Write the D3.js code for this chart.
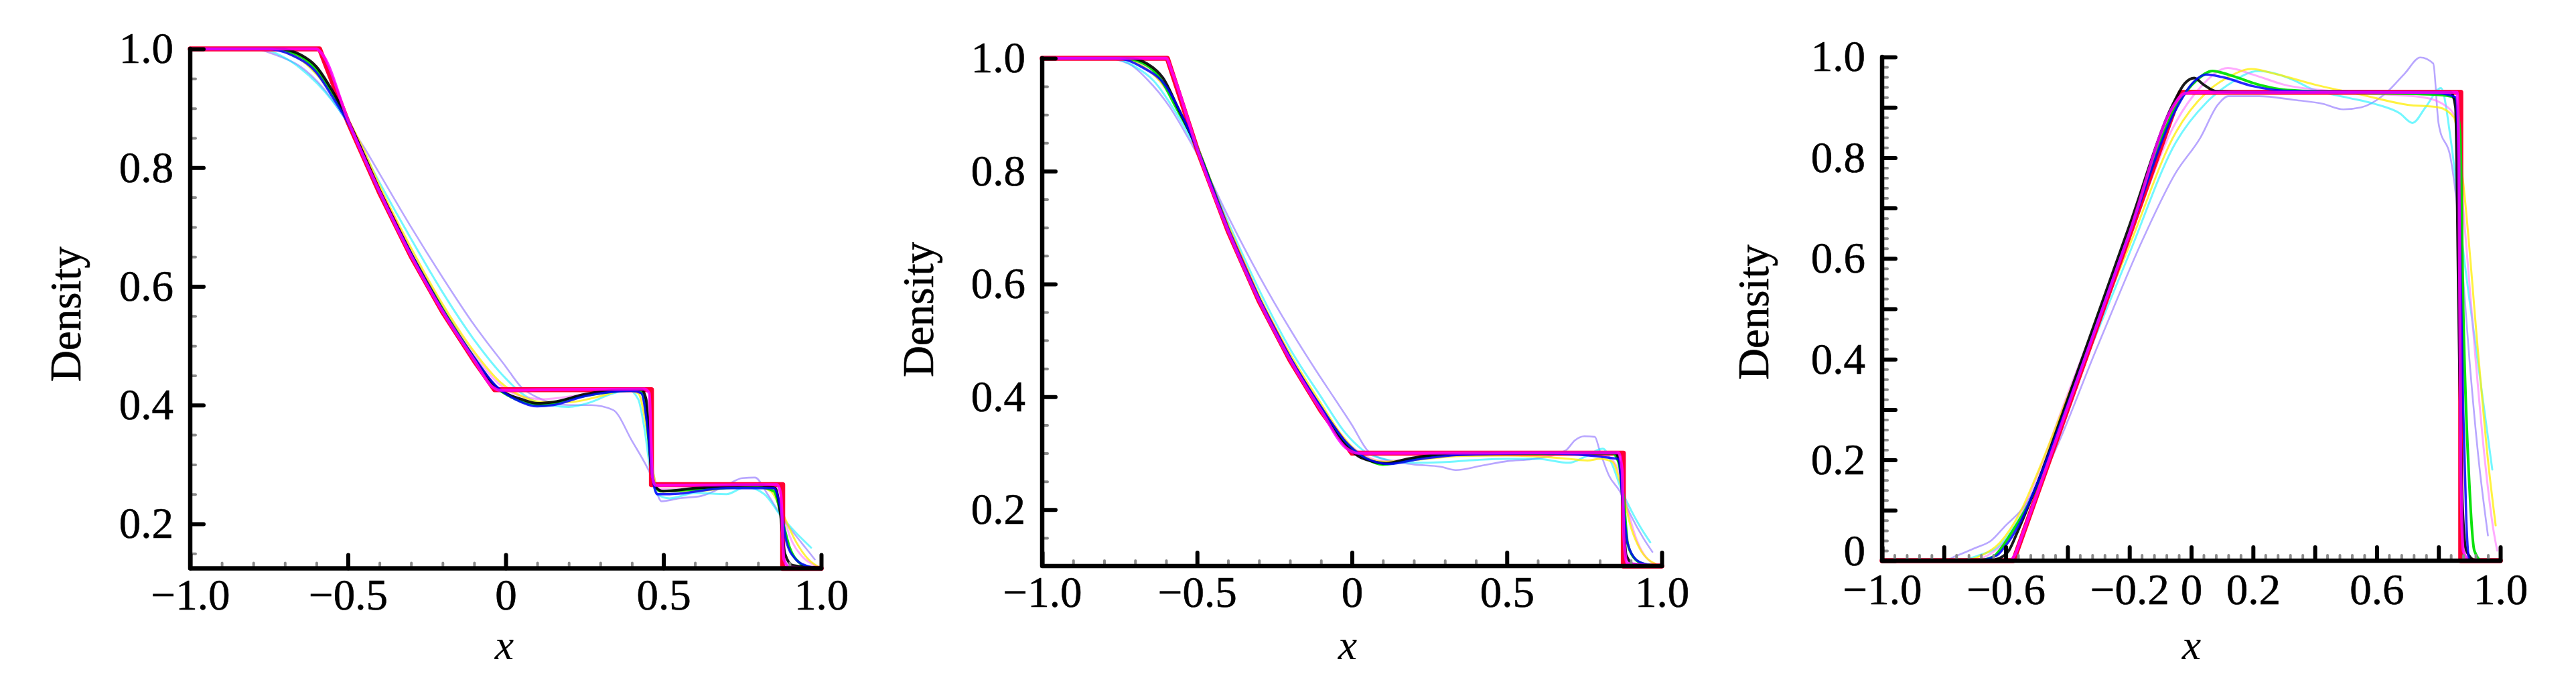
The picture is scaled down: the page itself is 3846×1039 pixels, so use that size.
<!DOCTYPE html>
<html><head><meta charset="utf-8">
<script src="https://cdn.jsdelivr.net/npm/d3@7"></script>
<style>body{margin:0;background:#fff}svg{display:block}</style>
</head><body>
<svg id="c" width="3846" height="1039"></svg>
<script>
// ---------------- DATA (x, density) ----------------
// Panel 1
const p1Red = [[-1,1],[-0.59,1],[-0.5,0.877],[-0.4,0.758],[-0.3,0.651],[-0.2,0.557],[-0.1,0.475],[-0.035,0.426],[0.462,0.426],[0.462,0.266],[0.878,0.266],[0.878,0.125],[1,0.125]];
const p1Magenta = [[-1,1],[-0.6,1],[-0.58,0.99],[-0.5,0.88],[-0.4,0.76],[-0.3,0.652],[-0.2,0.558],[-0.1,0.476],[-0.04,0.43],[-0.02,0.425],[0.1,0.426],[0.44,0.427],[0.455,0.42],[0.465,0.28],[0.475,0.265],[0.86,0.266],[0.872,0.25],[0.882,0.14],[0.9,0.127],[1,0.125]];
const p1Black = [[-1,1],[-0.72,1],[-0.65,0.99],[-0.6,0.97],[-0.55,0.93],[-0.5,0.88],[-0.4,0.762],[-0.3,0.655],[-0.2,0.56],[-0.1,0.478],[-0.04,0.435],[0,0.42],[0.05,0.41],[0.1,0.403],[0.15,0.405],[0.25,0.418],[0.35,0.425],[0.43,0.426],[0.445,0.41],[0.46,0.3],[0.475,0.262],[0.5,0.255],[0.6,0.26],[0.8,0.265],[0.855,0.26],[0.87,0.22],[0.885,0.15],[0.91,0.13],[1,0.125]];
const p1Green = [[-1,1],[-0.74,1],[-0.66,0.99],[-0.6,0.965],[-0.55,0.925],[-0.5,0.878],[-0.4,0.76],[-0.3,0.655],[-0.2,0.562],[-0.1,0.48],[-0.03,0.43],[0.02,0.413],[0.08,0.402],[0.12,0.4],[0.2,0.41],[0.3,0.42],[0.42,0.425],[0.44,0.41],[0.455,0.33],[0.47,0.27],[0.49,0.255],[0.6,0.258],[0.8,0.262],[0.85,0.255],[0.875,0.21],[0.9,0.16],[0.93,0.135],[0.96,0.127],[1,0.125]];
const p1Blue = [[-1,1],[-0.76,1],[-0.68,0.99],[-0.6,0.96],[-0.55,0.92],[-0.5,0.876],[-0.4,0.76],[-0.3,0.655],[-0.2,0.56],[-0.1,0.48],[-0.03,0.432],[0.03,0.41],[0.1,0.398],[0.15,0.4],[0.25,0.415],[0.4,0.424],[0.43,0.42],[0.45,0.36],[0.465,0.28],[0.48,0.25],[0.52,0.25],[0.7,0.26],[0.85,0.26],[0.87,0.23],[0.89,0.17],[0.92,0.14],[0.95,0.13],[1,0.125]];
const p1Yellow = [[-1,1],[-0.76,1],[-0.66,0.985],[-0.58,0.945],[-0.52,0.9],[-0.45,0.83],[-0.4,0.77],[-0.3,0.665],[-0.2,0.57],[-0.1,0.49],[-0.02,0.44],[0.05,0.415],[0.12,0.405],[0.2,0.405],[0.3,0.415],[0.38,0.425],[0.42,0.42],[0.45,0.35],[0.47,0.28],[0.49,0.255],[0.6,0.255],[0.78,0.265],[0.84,0.255],[0.88,0.215],[0.92,0.17],[0.96,0.14],[0.99,0.128]];
const p1Cyan = [[-1,1],[-0.78,1],[-0.7,0.985],[-0.65,0.967],[-0.55,0.913],[-0.5,0.875],[-0.4,0.775],[-0.3,0.68],[-0.2,0.59],[-0.1,0.51],[0,0.445],[0.05,0.42],[0.1,0.405],[0.2,0.397],[0.27,0.405],[0.33,0.418],[0.39,0.425],[0.42,0.41],[0.44,0.36],[0.46,0.285],[0.48,0.25],[0.52,0.243],[0.6,0.252],[0.7,0.25],[0.76,0.262],[0.82,0.25],[0.87,0.215],[0.92,0.185],[0.968,0.16]];
const p1Violet = [[-1,1],[-0.8,1],[-0.73,0.99],[-0.65,0.97],[-0.58,0.935],[-0.5,0.875],[-0.45,0.835],[-0.4,0.79],[-0.3,0.7],[-0.2,0.615],[-0.1,0.535],[0,0.465],[0.05,0.43],[0.1,0.413],[0.2,0.4],[0.27,0.4],[0.34,0.392],[0.4,0.34],[0.464,0.278],[0.494,0.238],[0.55,0.243],[0.62,0.247],[0.7,0.265],[0.75,0.277],[0.79,0.278],[0.83,0.25],[0.877,0.21],[0.92,0.18],[0.95,0.16],[0.98,0.14]];
const p1Pink = [[-1,1],[-0.74,1],[-0.66,0.988],[-0.6,0.96],[-0.54,0.915],[-0.5,0.878],[-0.4,0.765],[-0.3,0.66],[-0.2,0.566],[-0.1,0.485],[-0.02,0.435],[0.05,0.415],[0.12,0.41],[0.25,0.418],[0.38,0.425],[0.43,0.42],[0.455,0.34],[0.47,0.28],[0.49,0.258],[0.7,0.262],[0.84,0.262],[0.87,0.235],[0.9,0.18],[0.94,0.145],[0.98,0.13]];

// Panel 2
const p2Red = [[-1,1],[-0.596,1],[-0.5,0.839],[-0.4,0.694],[-0.3,0.57],[-0.2,0.465],[-0.1,0.375],[0,0.3],[0.876,0.3],[0.876,0.1],[1,0.1]];
const p2Magenta = [[-1,1],[-0.6,1],[-0.58,0.975],[-0.5,0.84],[-0.4,0.695],[-0.3,0.571],[-0.2,0.466],[-0.1,0.376],[-0.02,0.31],[0.02,0.3],[0.86,0.301],[0.872,0.27],[0.878,0.15],[0.888,0.105],[1,0.1]];
const p2Black = [[-1,1],[-0.72,1],[-0.66,0.99],[-0.61,0.965],[-0.56,0.91],[-0.5,0.84],[-0.4,0.696],[-0.3,0.572],[-0.2,0.467],[-0.1,0.378],[-0.03,0.32],[0.02,0.295],[0.07,0.285],[0.11,0.282],[0.18,0.29],[0.3,0.298],[0.6,0.3],[0.85,0.3],[0.865,0.28],[0.875,0.2],[0.885,0.12],[0.91,0.103],[1,0.1]];
const p2Green = [[-1,1],[-0.74,1],[-0.67,0.99],[-0.62,0.965],[-0.57,0.915],[-0.5,0.842],[-0.4,0.698],[-0.3,0.574],[-0.2,0.469],[-0.1,0.38],[-0.02,0.318],[0.04,0.292],[0.1,0.28],[0.15,0.284],[0.25,0.295],[0.4,0.299],[0.84,0.3],[0.86,0.285],[0.877,0.22],[0.89,0.14],[0.91,0.115],[0.94,0.104],[1,0.1]];
const p2Blue = [[-1,1],[-0.76,1],[-0.68,0.985],[-0.6,0.95],[-0.55,0.9],[-0.5,0.84],[-0.4,0.698],[-0.3,0.575],[-0.2,0.47],[-0.1,0.382],[-0.02,0.32],[0.05,0.29],[0.12,0.281],[0.2,0.288],[0.35,0.297],[0.6,0.3],[0.86,0.29],[0.875,0.21],[0.89,0.14],[0.92,0.11],[0.96,0.102]];
const p2Yellow = [[-1,1],[-0.76,1],[-0.66,0.98],[-0.58,0.93],[-0.52,0.87],[-0.45,0.77],[-0.4,0.705],[-0.3,0.58],[-0.2,0.476],[-0.1,0.388],[-0.03,0.33],[0.03,0.297],[0.1,0.285],[0.2,0.288],[0.35,0.295],[0.5,0.296],[0.7,0.29],[0.76,0.287],[0.8,0.29],[0.84,0.285],[0.87,0.24],[0.9,0.17],[0.93,0.13],[0.96,0.11],[0.98,0.104]];
const p2Cyan = [[-1,1],[-0.78,1],[-0.7,0.985],[-0.64,0.96],[-0.57,0.905],[-0.5,0.835],[-0.4,0.71],[-0.3,0.59],[-0.2,0.485],[-0.1,0.4],[-0.02,0.335],[0.05,0.3],[0.1,0.29],[0.2,0.283],[0.29,0.284],[0.4,0.288],[0.5,0.29],[0.6,0.29],[0.7,0.283],[0.75,0.293],[0.81,0.308],[0.84,0.28],[0.87,0.235],[0.9,0.2],[0.93,0.17],[0.963,0.142]];
const p2Violet = [[-1,1],[-0.8,1],[-0.72,0.99],[-0.66,0.962],[-0.59,0.915],[-0.53,0.86],[-0.48,0.81],[-0.4,0.72],[-0.3,0.615],[-0.2,0.52],[-0.12,0.45],[-0.06,0.4],[0,0.35],[0.05,0.305],[0.1,0.29],[0.2,0.28],[0.286,0.276],[0.335,0.27],[0.42,0.278],[0.502,0.286],[0.589,0.29],[0.69,0.305],[0.72,0.323],[0.75,0.33],[0.784,0.329],[0.8,0.304],[0.83,0.26],[0.864,0.233],[0.9,0.19],[0.94,0.15],[0.97,0.125]];
const p2Pink = [[-1,1],[-0.75,1],[-0.67,0.985],[-0.6,0.945],[-0.54,0.885],[-0.5,0.84],[-0.4,0.7],[-0.3,0.577],[-0.2,0.472],[-0.1,0.383],[-0.02,0.322],[0.04,0.296],[0.1,0.286],[0.2,0.29],[0.4,0.297],[0.7,0.297],[0.82,0.295],[0.86,0.27],[0.89,0.2],[0.92,0.145],[0.95,0.115],[0.98,0.103]];

// Panel 3
const p3Red = [[-1,0],[-0.575,0],[-0.035,0.93],[0.872,0.93],[0.872,0],[1,0]];
const p3Magenta = [[-1,0],[-0.59,0],[-0.57,0.012],[-0.55,0.045],[-0.4,0.305],[-0.2,0.65],[-0.06,0.9],[-0.02,0.928],[0.03,0.93],[0.86,0.93],[0.866,0.8],[0.872,0.2],[0.88,0.02],[0.9,0],[1,0]];
const p3Black = [[-1,0],[-0.66,0],[-0.62,0.005],[-0.59,0.02],[-0.56,0.06],[-0.5,0.15],[-0.4,0.32],[-0.2,0.665],[-0.06,0.905],[-0.02,0.948],[0.01,0.958],[0.04,0.945],[0.08,0.932],[0.2,0.93],[0.84,0.93],[0.855,0.9],[0.865,0.5],[0.875,0.15],[0.89,0.02],[0.92,0],[1,0]];
const p3Green = [[-1,0],[-0.7,0],[-0.64,0.008],[-0.617,0.023],[-0.588,0.049],[-0.517,0.124],[-0.4,0.315],[-0.2,0.655],[-0.05,0.9],[0.02,0.955],[0.069,0.972],[0.12,0.965],[0.218,0.945],[0.3,0.935],[0.5,0.93],[0.8,0.925],[0.85,0.92],[0.87,0.85],[0.88,0.5],[0.9,0.15],[0.916,0.02],[0.94,0],[1,0]];
const p3Blue = [[-1,0],[-0.7,0],[-0.63,0.01],[-0.6,0.03],[-0.55,0.08],[-0.5,0.15],[-0.4,0.31],[-0.2,0.65],[-0.05,0.895],[0,0.945],[0.05,0.965],[0.1,0.96],[0.2,0.942],[0.3,0.933],[0.8,0.928],[0.855,0.92],[0.865,0.8],[0.872,0.55],[0.88,0.3],[0.89,0.08],[0.9,0],[1,0]];
const p3Yellow = [[-1,0],[-0.74,0],[-0.68,0.01],[-0.62,0.035],[-0.55,0.1],[-0.5,0.17],[-0.4,0.325],[-0.2,0.625],[-0.05,0.85],[0.05,0.93],[0.12,0.96],[0.194,0.976],[0.28,0.965],[0.4,0.945],[0.55,0.925],[0.7,0.905],[0.8,0.9],[0.85,0.88],[0.88,0.75],[0.93,0.4],[0.96,0.2],[0.985,0.07]];
const p3Cyan = [[-1,0],[-0.76,0],[-0.733,0.002],[-0.68,0.012],[-0.625,0.027],[-0.57,0.07],[-0.517,0.129],[-0.4,0.31],[-0.2,0.61],[-0.05,0.83],[0.05,0.91],[0.12,0.945],[0.218,0.972],[0.335,0.953],[0.384,0.938],[0.5,0.92],[0.592,0.907],[0.675,0.888],[0.716,0.869],[0.758,0.9],[0.808,0.938],[0.841,0.83],[0.883,0.6],[0.924,0.41],[0.974,0.181]];
const p3Violet = [[-1,0],[-0.8,0],[-0.762,0.009],[-0.7,0.025],[-0.647,0.04],[-0.6,0.07],[-0.552,0.099],[-0.48,0.169],[-0.3,0.43],[-0.155,0.64],[-0.05,0.77],[0.03,0.84],[0.086,0.905],[0.12,0.922],[0.22,0.922],[0.33,0.915],[0.426,0.907],[0.492,0.896],[0.55,0.9],[0.633,0.93],[0.692,0.968],[0.741,0.999],[0.783,0.987],[0.8,0.869],[0.841,0.793],[0.858,0.716],[0.875,0.6],[0.9,0.4],[0.93,0.2],[0.96,0.05]];
const p3Pink = [[-1,0],[-0.72,0],[-0.66,0.01],[-0.6,0.04],[-0.55,0.09],[-0.5,0.165],[-0.4,0.33],[-0.2,0.64],[-0.05,0.87],[0.03,0.94],[0.119,0.978],[0.2,0.965],[0.3,0.945],[0.5,0.93],[0.75,0.92],[0.83,0.9],[0.86,0.87],[0.88,0.7],[0.92,0.4],[0.95,0.2],[0.978,0.06],[0.99,0.02]];

// Ticks and labels
const p12XMajor = [-1, -0.5, 0, 0.5, 1];
const p12XLabels = ["\u22121.0", "\u22120.5", "0", "0.5", "1.0"];
const p12YMajor = [0.2, 0.4, 0.6, 0.8, 1.0];
const p12YLabels = ["0.2", "0.4", "0.6", "0.8", "1.0"];
const p3XMajor = [-1, -0.8, -0.6, -0.4, -0.2, 0, 0.2, 0.4, 0.6, 0.8, 1];
const p3XLabels = ["\u22121.0", "", "\u22120.6", "", "\u22120.2", "0", "0.2", "", "0.6", "", "1.0"];
const p3YMajor = [0, 0.1, 0.2, 0.3, 0.4, 0.5, 0.6, 0.7, 0.8, 0.9, 1.0];
const p3YLabels = ["0", "", "0.2", "", "0.4", "", "0.6", "", "0.8", "", "1.0"];
const yTitle = "Density";
const xTitle = "x";

// ---------------- STYLE / LAYOUT ----------------
const FONT = "'Liberation Serif','Times New Roman',serif";
const styles = {
  violet: {c: "#7d5cff", w: 2.6, o: 0.55},
  cyan:   {c: "#00f0ff", w: 3,   o: 0.55},
  pink:   {c: "#ff66ff", w: 3,   o: 0.55},
  yellow: {c: "#ffee00", w: 3,   o: 0.75},
  red:    {c: "#ff0033", w: 7.5, o: 1},
  green:  {c: "#00e000", w: 4,   o: 0.95},
  black:  {c: "#000000", w: 4,   o: 0.9},
  blue:   {c: "#0000ff", w: 3.5, o: 0.85},
  magenta:{c: "#ff00ff", w: 4.5, o: 0.85}
};
const order = ["violet","cyan","pink","yellow","red","green","black","blue","magenta"];

const panels = [
  {x0: 284, x1: 1226, yBot: 848.5, yTop: 73, yDom: [0.125, 1],
   series: {red:p1Red, magenta:p1Magenta, black:p1Black, green:p1Green, blue:p1Blue, yellow:p1Yellow, cyan:p1Cyan, violet:p1Violet, pink:p1Pink},
   xMaj: p12XMajor, xLab: p12XLabels, yMaj: p12YMajor, yLab: p12YLabels,
   xMin: d3.range(-0.9, 1.0, 0.1), yMin: d3.range(0.15, 1.0, 0.05),
   titleY: [120, 469], titleX: [753, 984]},
  {x0: 1556, x1: 2481, yBot: 845, yTop: 87, yDom: [0.1, 1],
   series: {red:p2Red, magenta:p2Magenta, black:p2Black, green:p2Green, blue:p2Blue, yellow:p2Yellow, cyan:p2Cyan, violet:p2Violet, pink:p2Pink},
   xMaj: p12XMajor, xLab: p12XLabels, yMaj: p12YMajor, yLab: p12YLabels,
   xMin: d3.range(-0.9, 1.0, 0.1), yMin: d3.range(0.15, 1.0, 0.05),
   titleY: [1393, 462], titleX: [2012, 984]},
  {x0: 2810, x1: 3733, yBot: 837, yTop: 85, yDom: [0, 1],
   series: {red:p3Red, magenta:p3Magenta, black:p3Black, green:p3Green, blue:p3Blue, yellow:p3Yellow, cyan:p3Cyan, violet:p3Violet, pink:p3Pink},
   xMaj: p3XMajor, xLab: p3XLabels, yMaj: p3YMajor, yLab: p3YLabels,
   xMin: d3.range(-0.96, 1.0, 0.04), yMin: d3.range(0.02, 1.0, 0.02),
   titleY: [2640, 466], titleX: [3272, 984]}
];

const svg = d3.select("#c");
svg.append("rect").attr("width", 3846).attr("height", 1039).attr("fill", "#fff");

panels.forEach((p, pi) => {
  const x = d3.scaleLinear().domain([-1, 1]).range([p.x0, p.x1]);
  const y = d3.scaleLinear().domain(p.yDom).range([p.yBot, p.yTop]);
  const g = svg.append("g");

  // series
  const lineSharp = d3.line().x(d => x(d[0])).y(d => y(d[1]));
  const lineSmooth = d3.line().x(d => x(d[0])).y(d => y(d[1])).curve(d3.curveMonotoneX);
  order.forEach(k => {
    const s = styles[k];
    g.append("path").datum(p.series[k])
      .attr("d", k === "red" ? lineSharp : lineSmooth)
      .attr("fill", "none").attr("stroke", s.c).attr("stroke-width", s.w)
      .attr("stroke-opacity", s.o).attr("stroke-linejoin", "round").attr("stroke-linecap", "round");
  });

  const isMaj = (v, arr) => arr.some(m => Math.abs(m - v) < 1e-6);

  // minor ticks
  const xMinor = p.xMin.filter(v => !isMaj(v, p.xMaj));
  const yMinor = p.yMin.filter(v => !isMaj(v, p.yMaj));
  const gxm = g.append("g").attr("transform", `translate(0,${p.yBot})`)
    .call(d3.axisBottom(x).tickValues(xMinor).tickSize(-8).tickFormat(""));
  const gym = g.append("g").attr("transform", `translate(${p.x0},0)`)
    .call(d3.axisLeft(y).tickValues(yMinor).tickSize(-8).tickFormat(""));
  [gxm, gym].forEach(a => {
    a.select(".domain").remove();
    a.selectAll(".tick line").attr("stroke", "#8a8a8a").attr("stroke-width", 4).attr("stroke-linecap", "round");
  });

  // major ticks + labels
  const gx = g.append("g").attr("transform", `translate(0,${p.yBot})`)
    .call(d3.axisBottom(x).tickValues(p.xMaj).tickSize(-20).tickPadding(pi === 2 ? 19 : 15)
      .tickFormat((d, i) => p.xLab[i]));
  const gy = g.append("g").attr("transform", `translate(${p.x0},0)`)
    .call(d3.axisLeft(y).tickValues(p.yMaj).tickSize(-20).tickPadding(25)
      .tickFormat((d, i) => p.yLab[i]));
  [gx, gy].forEach(a => {
    a.select(".domain").remove();
    a.selectAll(".tick line").attr("stroke", "#000").attr("stroke-width", 6).attr("stroke-linecap", "round");
    a.selectAll(".tick text").attr("font-family", FONT).attr("font-size", 65).attr("fill", "#000")
      .attr("stroke", "#000").attr("stroke-width", 0.6);
  });
  if (pi === 2) {
    // lift the "0" label slightly so it sits clear of the x labels
    gy.selectAll(".tick text").filter(d => d === 0).attr("dy", "0.1em");
  }

  // axis frame (left + bottom)
  g.append("path")
    .attr("d", `M${x(-1)},${y(p.yDom[1])}L${x(-1)},${y(p.yDom[0])}L${x(1)},${y(p.yDom[0])}`)
    .attr("fill", "none").attr("stroke", "#000").attr("stroke-width", 6.5)
    .attr("stroke-linejoin", "round").attr("stroke-linecap", "round");

  // titles
  g.append("text").attr("transform", `translate(${p.titleY[0]},${p.titleY[1]}) rotate(-90)`)
    .attr("text-anchor", "middle").attr("font-family", FONT).attr("font-size", 65)
    .attr("stroke", "#000").attr("stroke-width", 0.6).text(yTitle);
  g.append("text").attr("x", p.titleX[0]).attr("y", p.titleX[1])
    .attr("text-anchor", "middle").attr("font-family", FONT).attr("font-style", "italic")
    .attr("font-size", 64).text(xTitle);
});
</script>
</body></html>
